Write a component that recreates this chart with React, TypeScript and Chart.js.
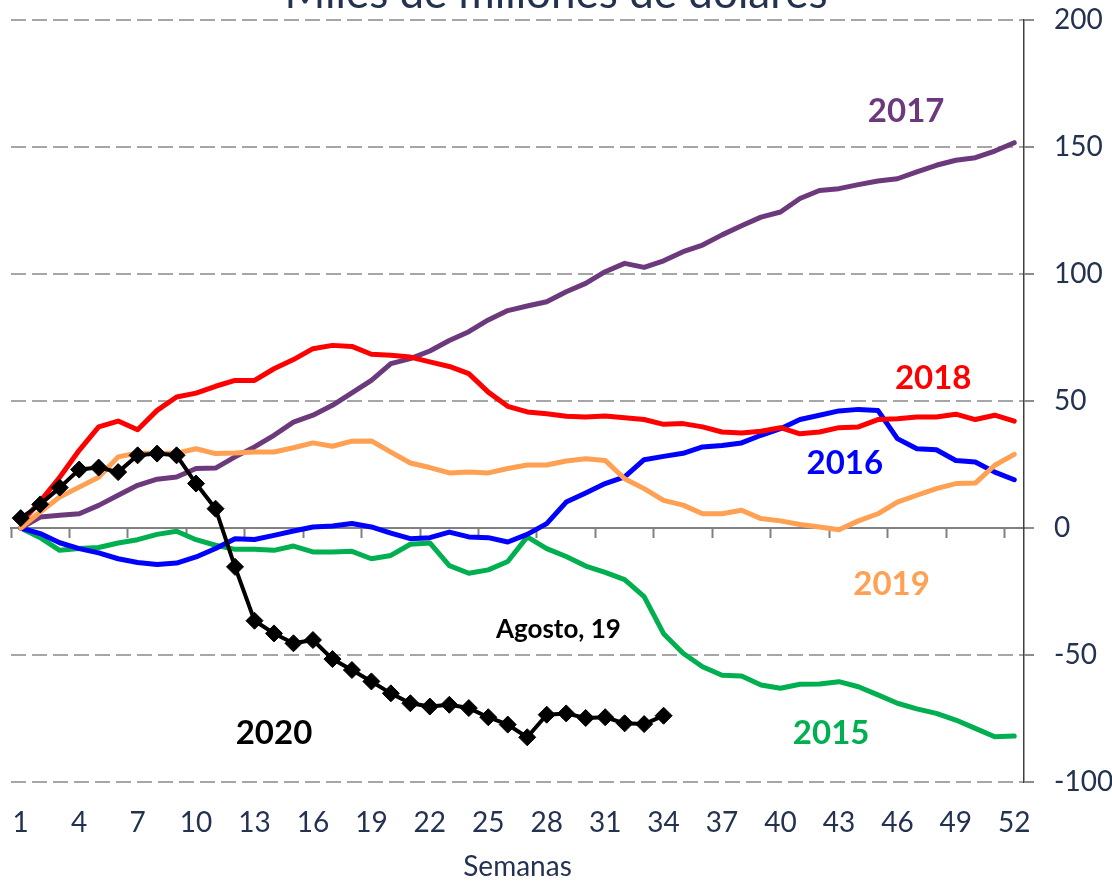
import React, { useEffect, useRef } from 'react';
import { Chart, registerables } from 'chart.js';

Chart.register(...registerables);

// Categories: weeks of the year
const weeks = [
  '1', '2', '3', '4', '5', '6', '7', '8', '9', '10', '11', '12', '13',
  '14', '15', '16', '17', '18', '19', '20', '21', '22', '23', '24', '25', '26',
  '27', '28', '29', '30', '31', '32', '33', '34', '35', '36', '37', '38', '39',
  '40', '41', '42', '43', '44', '45', '46', '47', '48', '49', '50', '51', '52',
];
const tickEvery = 3;

// Y tick range
const yMin = -100;
const yMax = 200;
const yStep = 50;

// Series (miles de millones de dólares)
const s2015 = [
  0, -3.8, -8.8, -8.1, -7.7, -5.9, -4.6, -2.5, -1.3, -4.6, -6.8, -8.4, -8.4,
  -8.8, -7.1, -9.4, -9.4, -9.2, -12.1, -10.8, -6.4, -5.9, -14.8, -17.8, -16.5, -13.2,
  -3.5, -8.1, -11.2, -15.0, -17.5, -20.3, -27.0, -41.6, -49.3, -54.6, -58.0, -58.3, -61.8,
  -63.1, -61.5, -61.4, -60.5, -62.5, -65.7, -69.0, -71.2, -73.0, -75.6, -78.9, -82.2, -81.9,
];
const s2016 = [
  0, -2.2, -5.8, -8.1, -9.8, -12.1, -13.6, -14.4, -13.8, -11.4, -8.1, -4.2, -4.5,
  -2.9, -1.2, 0.4, 0.8, 1.8, 0.4, -2.0, -4.2, -3.8, -1.6, -3.5, -3.8, -5.5,
  -2.5, 1.7, 10.2, 13.8, 17.5, 20.1, 26.9, 28.2, 29.4, 31.9, 32.5, 33.5, 36.5,
  39.1, 42.7, 44.4, 46.1, 46.7, 46.3, 35.2, 31.2, 30.8, 26.6, 26.0, 22.0, 19.0,
];
const s2017 = [
  0, 4.3, 5.0, 5.6, 8.9, 12.9, 16.8, 19.2, 20.1, 23.4, 23.6, 28.0, 31.9,
  36.5, 41.7, 44.4, 48.3, 53.2, 58.1, 64.7, 66.7, 69.7, 73.8, 77.3, 81.9, 85.6,
  87.4, 89.1, 93.0, 96.3, 100.9, 104.2, 102.6, 105.2, 108.8, 111.4, 115.4, 119.0, 122.4,
  124.4, 129.7, 132.9, 133.6, 135.2, 136.6, 137.5, 140.2, 142.8, 144.8, 145.8, 148.4, 151.7,
];
const s2018 = [
  2.0, 10.5, 20.0, 30.6, 39.8, 42.1, 38.7, 46.3, 51.6, 53.1, 55.8, 58.1, 58.1,
  62.7, 66.3, 70.6, 71.9, 71.5, 68.4, 68.0, 67.3, 65.4, 63.6, 60.8, 53.5, 47.9,
  45.7, 45.0, 44.0, 43.7, 44.1, 43.4, 42.7, 40.8, 41.1, 39.8, 37.8, 37.4, 38.1,
  39.5, 37.1, 37.8, 39.5, 39.8, 42.7, 43.0, 43.7, 43.7, 44.8, 42.7, 44.4, 42.1,
];
const s2019 = [
  0, 6.3, 12.2, 16.1, 20.0, 28.0, 29.5, 29.3, 29.5, 31.2, 29.3, 29.5, 29.9,
  29.9, 31.6, 33.5, 32.2, 34.2, 34.3, 29.9, 25.6, 23.8, 21.7, 22.0, 21.7, 23.4,
  24.8, 24.8, 26.4, 27.3, 26.6, 19.4, 15.5, 10.9, 9.0, 5.6, 5.6, 7.0, 3.7,
  2.8, 1.4, 0.4, -0.7, 2.8, 5.6, 10.2, 12.9, 15.5, 17.5, 17.7, 24.7, 29.0,
];
const s2020 = [
  3.9, 9.3, 15.9, 23.0, 23.8, 22.0, 28.6, 29.3, 28.6, 17.5, 7.6, -15.3, -36.5,
  -41.5, -45.4, -44.1, -51.6, -55.9, -60.4, -65.1, -69.0, -70.3, -69.6, -70.9, -74.5, -77.4,
  -82.4, -73.5, -73.0, -74.8, -74.5, -76.9, -77.2, -73.9,
];

// Texts
const titleText = 'Miles de millones de dólares';
const xTitle = 'Semanas';
const seriesNames = ['2020', '2019', '2018', '2017', '2016', '2015'];
const noteText = 'Agosto, 19';

const TEXT_COLOR = '#243251';
const FONT = 'Lato, "Noto Sans", sans-serif';

// Label anchors in data units (category index, value)
const labelAnchors = [
  { text: '2017', color: '#6c3a7c', x: 45.45, y: 164, size: 33, bold: true },
  { text: '2018', color: '#ff0000', x: 46.84, y: 59, size: 33, bold: true },
  { text: '2016', color: '#0000ff', x: 42.3, y: 25.6, size: 33, bold: true },
  { text: '2019', color: '#ffa052', x: 44.7, y: -22, size: 33, bold: true },
  { text: '2015', color: '#00b050', x: 41.6, y: -81, size: 33, bold: true },
  { text: '2020', color: '#000000', x: 13.0, y: -80.7, size: 33, bold: true },
  { text: noteText, color: '#000000', x: 27.6, y: -40.2, size: 26, bold: true },
];

const annotationPlugin = {
  id: 'annotations',
  afterDatasetsDraw(chart: any) {
    const { ctx, scales } = chart;
    const xs = scales.x;
    const ys = scales.y;
    ctx.save();
    ctx.textAlign = 'center';
    ctx.textBaseline = 'middle';
    for (const a of labelAnchors) {
      ctx.font = `${a.bold ? 'bold ' : ''}${a.size}px ${FONT}`;
      ctx.fillStyle = a.color;
      ctx.fillText(a.text, xs.getPixelForValue(a.x), ys.getPixelForValue(a.y));
    }
    // title (partly cut at the top, as in the original)
    ctx.font = `44px ${FONT}`;
    ctx.fillStyle = TEXT_COLOR;
    ctx.textBaseline = 'alphabetic';
    ctx.fillText(titleText, chart.width / 2, 8);
    ctx.restore();
  },
};

export default function App() {
  const canvasRef = useRef<HTMLCanvasElement | null>(null);

  useEffect(() => {
    const canvas = canvasRef.current;
    if (!canvas) return;
    const colors = ['#000000', '#ffa052', '#ff0000', '#6c3a7c', '#0000ff', '#00b050'];
    const values = [s2020, s2019, s2018, s2017, s2016, s2015];
    const datasets = values.map((data, i) => {
      const is2020 = i === 0;
      return {
        label: seriesNames[i],
        data,
        borderColor: colors[i],
        backgroundColor: colors[i],
        borderWidth: is2020 ? 4 : 5,
        tension: 0,
        fill: false,
        borderJoinStyle: 'round' as const,
        borderCapStyle: 'round' as const,
        pointRadius: is2020 ? 8.5 : 0,
        pointHoverRadius: is2020 ? 8.5 : 0,
        pointStyle: 'rectRot' as const,
        pointBackgroundColor: colors[i],
        pointBorderColor: colors[i],
        pointBorderWidth: 1,
      };
    });

    const chart = new Chart(canvas, {
      type: 'line',
      data: { labels: weeks, datasets },
      plugins: [annotationPlugin],
      options: {
        responsive: false,
        animation: false,
        devicePixelRatio: 1,
        layout: { padding: { left: 11, right: 0, top: 20, bottom: 0 } },
        plugins: {
          legend: { display: false },
          tooltip: { enabled: false },
          title: { display: false },
        },
        scales: {
          x: {
            type: 'category',
            position: 'bottom',
            offset: true,
            grid: { display: false, drawTicks: false },
            border: { display: false },
            ticks: {
              autoSkip: false,
              maxRotation: 0,
              minRotation: 0,
              padding: 24,
              color: TEXT_COLOR,
              font: { family: FONT, size: 28 },
              callback: (_v: any, i: number) => (i % tickEvery === 0 ? weeks[i] : ''),
            },
            title: {
              display: true,
              text: xTitle,
              color: TEXT_COLOR,
              font: { family: FONT, size: 28 },
              padding: { top: 11, bottom: 0 },
            },
            afterFit: (scale: any) => {
              scale.height = 102;
              scale.paddingLeft = 0;
              scale.paddingRight = 0;
            },
          },
          x2: {
            type: 'category',
            axis: 'x',
            labels: weeks,
            position: { y: 0 } as any,
            offset: true,
            grid: {
              display: true,
              drawOnChartArea: false,
              drawTicks: true,
              tickLength: 9,
              tickWidth: 2,
              offset: true,
              tickColor: (c: any) => (c.index % tickEvery === 0 ? '#808080' : 'rgba(0,0,0,0)'),
            },
            border: { display: true, color: '#808080', width: 2 },
            ticks: { display: false, autoSkip: false },
            afterFit: (scale: any) => {
              scale.paddingLeft = 0;
              scale.paddingRight = 0;
            },
          },
          y: {
            position: 'right',
            min: yMin,
            max: yMax,
            ticks: {
              stepSize: yStep,
              padding: 20,
              color: TEXT_COLOR,
              font: { family: FONT, size: 28 },
            },
            grid: {
              color: (c: any) => (c.tick && c.tick.value === 0 ? 'rgba(0,0,0,0)' : '#a6a6a6'),
              lineWidth: 2,
              tickColor: '#8c8c8c',
              tickLength: 10,
              tickWidth: 2,
            },
            border: { display: true, color: '#404040', width: 1.5, dash: [15, 6] },
            afterFit: (scale: any) => {
              scale.width = 88;
              scale.paddingTop = 0;
              scale.paddingBottom = 0;
            },
          },
        },
      } as any,
    });

    const fonts: any = (document as any).fonts;
    if (fonts && fonts.ready) {
      fonts.ready.then(() => {
        try { chart.update(); } catch (e) { /* destroyed */ }
      });
    }

    return () => {
      chart.destroy();
    };
  }, []);

  return (
    <div style={{ position: 'fixed', left: 0, top: 0, width: 1112, height: 884, background: '#ffffff' }}>
      <canvas ref={canvasRef} width={1112} height={884} style={{ display: 'block' }} />
    </div>
  );
}
